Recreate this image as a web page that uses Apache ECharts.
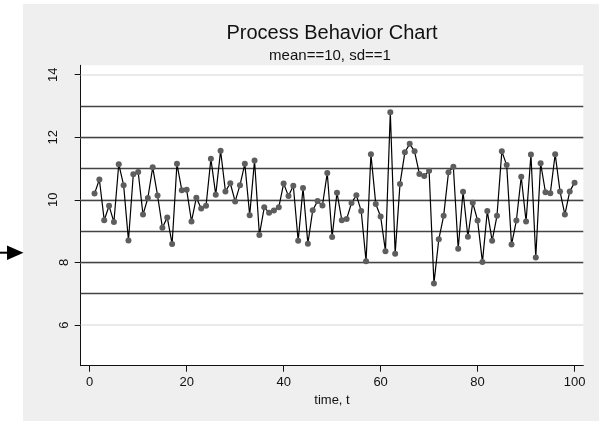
<!DOCTYPE html>
<html>
<head>
<meta charset="utf-8">
<title>Process Behavior Chart</title>
<script src="https://cdn.jsdelivr.net/npm/echarts@6/dist/echarts.min.js"></script>
<style>
  html, body { margin: 0; padding: 0; background: #ffffff; }
  #chart { width: 611px; height: 421px; }
</style>
</head>
<body>
<div id="chart"></div>
<script>
// Observations x_t for t = 1..100
const observations = [
  10.20, 10.65, 9.35, 9.81, 9.29, 11.14, 10.47, 8.70, 10.82, 10.89,
  9.53, 10.06, 11.04, 10.14, 9.11, 9.44, 8.59, 11.15, 10.31, 10.32,
  9.31, 10.07, 9.72, 9.81, 11.31, 10.16, 11.57, 10.27, 10.53, 9.95,
  10.47, 11.15, 9.51, 11.26, 8.88, 9.76, 9.59, 9.66, 9.76, 10.52,
  10.12, 10.45, 8.69, 10.38, 8.60, 9.67, 9.96, 9.82, 10.86, 8.81,
  10.23, 9.35, 9.39, 9.90, 10.15, 9.64, 8.04, 11.46, 9.87, 9.47,
  8.36, 12.80, 8.28, 10.51, 11.52, 11.79, 11.55, 10.83, 10.76, 10.93,
  7.33, 8.74, 9.49, 10.88, 11.06, 8.44, 10.26, 8.82, 9.91, 9.34,
  8.01, 9.64, 8.69, 9.49, 11.55, 11.11, 8.57, 9.34, 10.74, 9.31,
  11.45, 8.16, 11.17, 10.24, 10.21, 11.46, 10.27, 9.53, 10.27, 10.55
];

// Mean +/- 1, 2, 3 sd reference levels
const limitLevels = [7, 8, 9, 10, 11, 12, 13];
// Tick values
const xTicks = [0, 20, 40, 60, 80, 100];
const yTicks = [6, 8, 10, 12, 14];

const titleText = 'Process Behavior Chart';
const subtitleText = 'mean==10, sd==1';
const xAxisName = 'time, t';

const points = observations.map((v, i) => [i + 1, v]);

const font = '"Liberation Sans", Arial, Helvetica, sans-serif';
const chart = echarts.init(document.getElementById('chart'), null, { renderer: 'canvas' });

chart.setOption({
  animation: false,
  backgroundColor: '#efefef',
  textStyle: { fontFamily: font },
  title: [
    {
      text: titleText,
      left: 332, top: 23, textAlign: 'center', padding: 0,
      textStyle: { fontFamily: font, fontSize: 20, fontWeight: 'normal', color: '#111' }
    },
    {
      text: subtitleText,
      left: 330, top: 48, textAlign: 'center', padding: 0,
      textStyle: { fontFamily: font, fontSize: 15, fontWeight: 'normal', color: '#111' }
    }
  ],
  graphic: {
    elements: [
      // white margins around the grey panel
      { type: 'rect', left: 0, top: 0, shape: { width: 23, height: 421 }, style: { fill: '#ffffff' }, silent: true },
      { type: 'rect', left: 0, top: 0, shape: { width: 611, height: 4 }, style: { fill: '#ffffff' }, silent: true },
      { type: 'rect', left: 599, top: 0, shape: { width: 12, height: 421 }, style: { fill: '#ffffff' }, silent: true },
      // pointer arrow
      { type: 'line', shape: { x1: 0, y1: 252.7, x2: 9, y2: 252.7 }, style: { stroke: '#000', lineWidth: 2 }, silent: true },
      { type: 'polygon', shape: { points: [[7, 245.5], [23.5, 252.7], [7, 260]] }, style: { fill: '#000' }, silent: true }
    ]
  },
  grid: {
    left: 80.7, right: 27.7, top: 65.3, bottom: 55.3,
    show: true, backgroundColor: '#ffffff', borderWidth: 0
  },
  xAxis: {
    type: 'value',
    min: -1.85, max: 101.8,
    name: xAxisName,
    nameLocation: 'middle',
    nameGap: 27,
    nameTextStyle: { fontFamily: font, fontSize: 13, color: '#111' },
    axisLine: { show: true, onZero: false, lineStyle: { color: '#111', width: 1 } },
    axisTick: { show: true, length: 6, customValues: xTicks, lineStyle: { color: '#111' } },
    axisLabel: { customValues: xTicks, margin: 10, fontFamily: font, fontSize: 13, color: '#111' },
    splitLine: { show: false }
  },
  yAxis: {
    type: 'value',
    min: 4.7, max: 14.3,
    axisLine: { show: true, onZero: false, lineStyle: { color: '#111', width: 1 } },
    axisTick: { show: true, length: 6, customValues: yTicks, lineStyle: { color: '#111' } },
    axisLabel: {
      customValues: yTicks,
      rotate: 90,
      margin: 10,
      fontFamily: font, fontSize: 13, color: '#111',
      formatter: v => (String(v).length > 1 ? '{w|' + v + '}' : '{n|' + v + '}'),
      rich: {
        w: { fontFamily: font, fontSize: 13, color: '#111', padding: [0, 0, 11, 0] },
        n: { fontFamily: font, fontSize: 13, color: '#111' }
      }
    },
    splitLine: { show: false }
  },
  series: [
    {
      // light grid lines at the y ticks
      type: 'line', data: [], z: 1, silent: true,
      markLine: {
        silent: true, symbol: 'none', animation: false,
        label: { show: false },
        lineStyle: { color: '#e3e3e3', width: 1.5, type: 'solid' },
        data: yTicks.map(v => ({ yAxis: v }))
      }
    },
    {
      // reference levels
      type: 'line', data: [], z: 2, silent: true,
      markLine: {
        silent: true, symbol: 'none', animation: false,
        label: { show: false },
        lineStyle: { color: '#444444', width: 1.3, type: 'solid' },
        data: limitLevels.map(v => ({ yAxis: v }))
      }
    },
    {
      type: 'line',
      data: points,
      z: 5,
      symbol: 'circle',
      symbolSize: 6,
      showAllSymbol: true,
      itemStyle: { color: '#5e5e5e' },
      lineStyle: { color: '#000000', width: 1.2 }
    }
  ]
});
</script>
</body>
</html>
